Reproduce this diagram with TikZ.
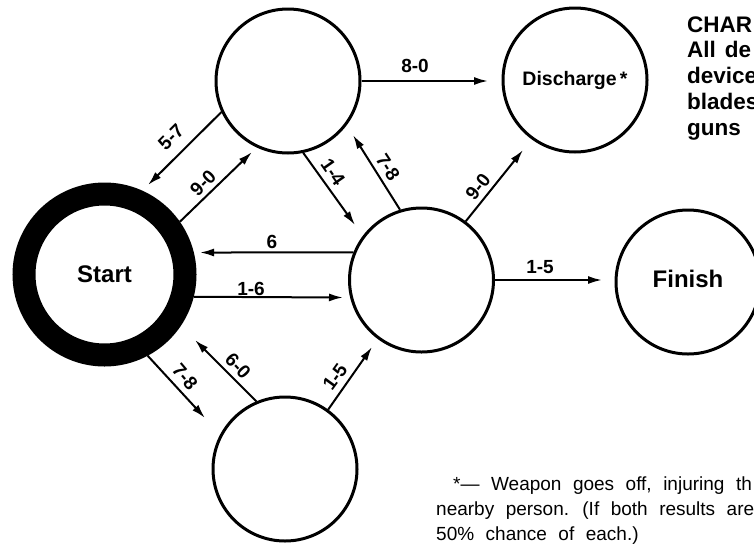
\documentclass[tikz,border=0pt]{standalone}
\usepackage{fontspec}
\setmainfont{Liberation Sans}
\usetikzlibrary{arrows.meta}
\newcommand{\notefont}{\fontsize{19}{19}\selectfont\spaceskip=11.5pt\relax}
\begin{document}
\begin{tikzpicture}[x=1pt,y=-1pt,
  state/.style={circle, draw, line width=3pt, minimum size=144pt, inner sep=0pt},
  startstate/.style={circle, draw, line width=23pt, minimum size=161pt, inner sep=0pt,
    font=\fontsize{24}{24}\selectfont\bfseries},
  conn/.style={line width=2pt, -{Latex[length=14pt,width=8pt]}},
  lab/.style={font=\fontsize{19}{19}\selectfont\bfseries, inner sep=0pt},
  bigtext/.style={font=\fontsize{24}{24}\selectfont\bfseries},
  headline/.style={anchor=base west, inner sep=0pt, font=\fontsize{22.5}{22.5}\selectfont\bfseries},
  noteline/.style={anchor=base west, inner sep=0pt, font=\notefont}
]
\useasboundingbox (0,0) rectangle (754,544);

% states
\node[startstate] (S) at (104.5,274.5) {Start};
\node[state] (A) at (288,81) {};
\node[state, font=\fontsize{19.5}{19.5}\selectfont\bfseries] (D) at (575,80) {Discharge\,*};
\node[state] (M) at (421.5,280) {};
\node[state, bigtext] (F) at (688,282) {\raisebox{6pt}{Finish}};
\node[state] (B) at (285,469) {};

% arrow tips
\coordinate (t1) at (488,81);
\coordinate (t2) at (148,185);
\coordinate (t3) at (252,152);
\coordinate (t4) at (355,225);
\coordinate (t5) at (353,135);
\coordinate (t6) at (523,150);
\coordinate (t7) at (200,252.5);
\coordinate (t8) at (343,297.5);
\coordinate (t9) at (602,280);
\coordinate (t10) at (205,418);
\coordinate (t11) at (195,340);
\coordinate (t12) at (372,347);

% connectors
\draw[conn] (A.east) -- (t1);
\draw[conn] (A.205) -- (t2);
\draw[conn] (S.35) -- (t3);
\draw[conn] (A.-78) -- (t4);
\draw[conn] (M.107) -- (t5);
\draw[conn] (M.53) -- (t6);
\draw[conn] (M.158) -- (t7);
\draw[conn] (S.-14.5) -- (t8);
\draw[conn] (M.east) -- (t9);
\draw[conn] (S.-62) -- (t10);
\draw[conn] (B.113) -- (t11);
\draw[conn] (B.54) -- (t12);

% labels
\node[lab] (l1) at (415,66) {8-0};
\node[lab, rotate=45] (l2) at (171,137) {5-7};
\node[lab, rotate=45] (l3) at (203,183) {9-0};
\node[lab, rotate=-55] (l4) at (333,172) {1-4};
\node[lab, rotate=-57] (l5) at (388,167) {7-8};
\node[lab, rotate=52] (l6) at (478,187) {9-0};
\node[lab] (l7) at (272,242) {6};
\node[lab] (l8) at (251,289) {1-6};
\node[lab] (l9) at (540,267) {1-5};
\node[lab, rotate=-50] (l10) at (185,377) {7-8};
\node[lab, rotate=-47] (l11) at (238,366) {6-0};
\node[lab, rotate=54] (l12) at (335,377) {1-5};

% heading (cropped at the right edge)
\node[headline] (h1) at (687,32) {CHAR};
\node[headline] (h2) at (687,57) {All\hspace{9pt}de};
\node[headline] (h3) at (687,83) {device};
\node[headline] (h4) at (687,109) {blades};
\node[headline] (h5) at (687,135) {guns};

% footnote (cropped at the right edge)
\node[noteline] (n1) at (453,490) {*— Weapon goes off, injuring th};
\node[noteline] (n2) at (436,515) {nearby person. (If both results are};
\node[noteline] (n3) at (436,540) {50\% chance of each.)};
\end{tikzpicture}
\end{document}
